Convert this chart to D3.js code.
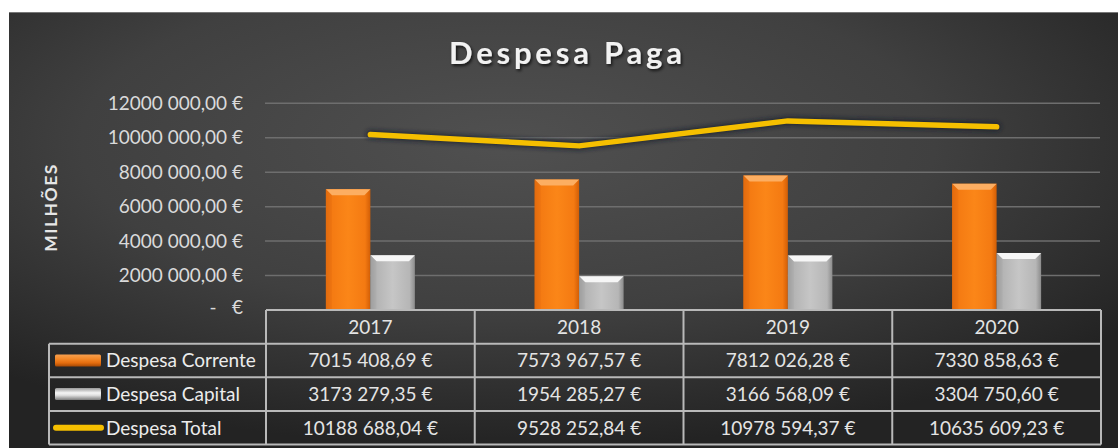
<!DOCTYPE html>
<html>
<head>
<meta charset="utf-8">
<script src="https://cdn.jsdelivr.net/npm/d3@7"></script>
<style>
  html, body { margin: 0; padding: 0; background: #fff; }
  svg { display: block; }
  text { font-family: Lato, "Open Sans", sans-serif; }
</style>
</head>
<body>
<svg id="chart" width="1118" height="448"></svg>
<script>
const title = "Despesa Paga";
const yAxisTitle = "MILHÕES";
const years = ["2017", "2018", "2019", "2020"];
const seriesNames = ["Despesa Corrente", "Despesa Capital", "Despesa Total"];
const despesaCorrente = [7015408.69, 7573967.57, 7812026.28, 7330858.63];
const despesaCapital = [3173279.35, 1954285.27, 3166568.09, 3304750.60];
const despesaTotal = [10188688.04, 9528252.84, 10978594.37, 10635609.23];
const yTicks = [0, 2000000, 4000000, 6000000, 8000000, 10000000, 12000000];

// Excel-like pt format: "7015 408,69 €"
function fmtEuro(v) {
  const s = d3.format(",.2f")(v);
  const [intPart, dec] = s.split(".");
  const groups = intPart.split(",");
  let out;
  if (groups.length >= 2) {
    out = groups.slice(0, groups.length - 1).join("") + " " + groups[groups.length - 1];
  } else out = groups[0];
  return out + "," + dec + " €";
}

const svg = d3.select("#chart");
const defs = svg.append("defs");

const bg = defs.append("radialGradient").attr("id", "bgGrad")
  .attr("cx", "0.45").attr("cy", "0.3").attr("r", "0.7");
bg.append("stop").attr("offset", "0%").attr("stop-color", "#505050");
bg.append("stop").attr("offset", "55%").attr("stop-color", "#404040");
bg.append("stop").attr("offset", "100%").attr("stop-color", "#232323");

function hGrad(id, stops) {
  const g = defs.append("linearGradient").attr("id", id)
    .attr("x1", "0").attr("x2", "1").attr("y1", "0").attr("y2", "0");
  stops.forEach(s => g.append("stop").attr("offset", s[0]).attr("stop-color", s[1]));
}
function vGrad(id, stops) {
  const g = defs.append("linearGradient").attr("id", id)
    .attr("x1", "0").attr("x2", "0").attr("y1", "0").attr("y2", "1");
  stops.forEach(s => g.append("stop").attr("offset", s[0]).attr("stop-color", s[1]));
}
hGrad("orangeBar", [["0%", "#d9640a"], ["12%", "#f47a12"], ["50%", "#fb8618"], ["88%", "#f47a12"], ["100%", "#d25e06"]]);
hGrad("grayBar", [["0%", "#8f8f8f"], ["12%", "#b3b3b3"], ["50%", "#c6c6c6"], ["88%", "#b6b6b6"], ["100%", "#8c8c8c"]]);
vGrad("orangeKey", [["0%", "#f7a050"], ["35%", "#f58a2a"], ["70%", "#e56d0e"], ["100%", "#a84a05"]]);
vGrad("grayKey", [["0%", "#9a9a9a"], ["40%", "#f4f4f4"], ["60%", "#e0e0e0"], ["100%", "#7a7a7a"]]);

const shadow = defs.append("filter").attr("id", "shadow").attr("x", "-20%").attr("y", "-20%").attr("width", "140%").attr("height", "160%");
shadow.append("feDropShadow").attr("dx", 1.5).attr("dy", 2).attr("stdDeviation", 1.5).attr("flood-color", "#000").attr("flood-opacity", 0.7);
const blur = defs.append("filter").attr("id", "blur").attr("x", "-10%").attr("y", "-50%").attr("width", "120%").attr("height", "200%");
blur.append("feGaussianBlur").attr("stdDeviation", 2);

svg.append("rect").attr("x", 9).attr("y", 12).attr("width", 1109).attr("height", 436)
  .attr("fill", "url(#bgGrad)");
svg.append("line").attr("x1", 9).attr("x2", 1118).attr("y1", 12.5).attr("y2", 12.5)
  .attr("stroke", "#777").attr("stroke-width", 1);

const y = d3.scaleLinear().domain([0, 12000000]).range([310, 103.3]);
const x0 = d3.scaleBand().domain(years).range([266, 1101]).padding(0);
const groupW = 89;
const x1 = d3.scaleBand().domain(["corrente", "capital"]).range([0, groupW]).padding(0);

svg.append("g").selectAll("line").data(yTicks.filter(d => d > 0)).join("line")
  .attr("x1", 265).attr("x2", 1100)
  .attr("y1", d => y(d)).attr("y2", d => y(d))
  .attr("stroke", "#6e6e6e").attr("stroke-width", 1.5);

const yl = svg.append("g");
yl.selectAll("text").data(yTicks.filter(d => d > 0)).join("text")
  .attr("x", 243).attr("y", d => y(d)).attr("dy", "0.35em")
  .attr("text-anchor", "end").attr("font-size", 19).attr("fill", "#dadada")
  .text(d => fmtEuro(d));
yl.append("text").attr("x", 213).attr("y", y(0)).attr("dy", "0.2em")
  .attr("text-anchor", "middle").attr("font-size", 19).attr("fill", "#dadada").text("-");
yl.append("text").attr("x", 243).attr("y", y(0)).attr("dy", "0.2em")
  .attr("text-anchor", "end").attr("font-size", 19).attr("fill", "#dadada").text("€");

svg.append("text").attr("transform", `translate(57,207.5) rotate(-90)`)
  .attr("text-anchor", "middle").attr("font-size", 17.5).attr("font-weight", "bold")
  .attr("letter-spacing", 1.5).attr("fill", "#e6e6e6").text(yAxisTitle);

svg.append("text").attr("x", 449).attr("y", 64)
  .attr("font-size", 31).attr("font-weight", "bold").attr("letter-spacing", 3.8)
  .attr("fill", "#f2f2f2").attr("filter", "url(#shadow)").text(title);

const barData = [];
years.forEach((yr, i) => {
  barData.push({ year: yr, key: "corrente", value: despesaCorrente[i] });
  barData.push({ year: yr, key: "capital", value: despesaCapital[i] });
});
const bars = svg.append("g").selectAll("g").data(barData).join("g")
  .attr("transform", d => `translate(${x0(d.year) + x0.bandwidth() / 2 - groupW / 2 + x1(d.key)},0)`);
bars.append("rect").attr("x", 0).attr("y", d => y(d.value))
  .attr("width", x1.bandwidth()).attr("height", d => y(0) - y(d.value))
  .attr("fill", d => d.key === "corrente" ? "url(#orangeBar)" : "url(#grayBar)");
bars.append("path").attr("d", d => {
  const w = x1.bandwidth(), t = y(d.value), b = 6;
  return `M0,${t} L${w},${t} L${w - b},${t + b} L${b},${t + b} Z`;
}).attr("fill", d => d.key === "corrente" ? "#fcae62" : "#f6f6f6");
bars.append("path").attr("d", d => {
  const w = x1.bandwidth(), t = y(d.value), b = 6;
  return `M0,${t} L${b},${t + b} L${b},${y(0)} L0,${y(0)} Z`;
}).attr("fill", d => d.key === "corrente" ? "#e87010" : "#a8a8a8").attr("opacity", 0.6);

const line = d3.line().x((d, i) => x0(years[i]) + x0.bandwidth() / 2).y(d => y(d));
svg.append("path").datum(despesaTotal).attr("d", line)
  .attr("fill", "none").attr("stroke", "#141a2a").attr("stroke-width", 9)
  .attr("stroke-linecap", "round").attr("stroke-linejoin", "round")
  .attr("opacity", 0.7).attr("filter", "url(#blur)");
svg.append("path").datum(despesaTotal).attr("d", line)
  .attr("fill", "none").attr("stroke", "#f5bf00").attr("stroke-width", 5.5)
  .attr("stroke-linecap", "round").attr("stroke-linejoin", "round");

const rowKeys = ["header", "corrente", "capital", "total"];
const rowY = d3.scaleBand().domain(rowKeys).range([310, 444.5]).padding(0);
const tableLeft = 49, tableRight = 1101, colStart = 266;
const tbl = svg.append("g");
const borderColor = "#b9b9b9";

tbl.selectAll("text.hdr").data(years).join("text").attr("class", "hdr")
  .attr("x", d => x0(d) + x0.bandwidth() / 2)
  .attr("y", rowY("header") + rowY.bandwidth() / 2).attr("dy", "0.36em")
  .attr("text-anchor", "middle").attr("font-size", 19).attr("fill", "#e4e4e4").text(d => d);

const tableRows = [
  { key: "corrente", name: seriesNames[0], values: despesaCorrente },
  { key: "capital", name: seriesNames[1], values: despesaCapital },
  { key: "total", name: seriesNames[2], values: despesaTotal }
];
tableRows.forEach(r => {
  const cy = rowY(r.key) + rowY.bandwidth() / 2;
  tbl.append("text").attr("x", 106).attr("y", cy).attr("dy", "0.36em")
    .attr("font-size", 19).attr("fill", "#ececec").text(r.name);
  tbl.selectAll(null).data(r.values).join("text")
    .attr("x", (d, i) => x0(years[i]) + x0.bandwidth() / 2).attr("y", cy).attr("dy", "0.36em")
    .attr("text-anchor", "middle").attr("font-size", 19).attr("fill", "#e4e4e4")
    .text(d => fmtEuro(d));
  if (r.key === "total") {
    tbl.append("line").attr("x1", 56).attr("x2", 101).attr("y1", cy).attr("y2", cy)
      .attr("stroke", "#f5bf00").attr("stroke-width", 6).attr("stroke-linecap", "round");
  } else {
    tbl.append("rect").attr("x", 55).attr("y", cy - 6).attr("width", 46).attr("height", 12)
      .attr("rx", 1.5)
      .attr("fill", r.key === "corrente" ? "url(#orangeKey)" : "url(#grayKey)");
  }
});

const hLines = [
  { y: rowY("header"), x1: colStart, x2: tableRight },
  { y: rowY("corrente"), x1: tableLeft, x2: tableRight },
  { y: rowY("capital"), x1: tableLeft, x2: tableRight },
  { y: rowY("total"), x1: tableLeft, x2: tableRight },
  { y: rowY("total") + rowY.bandwidth(), x1: tableLeft, x2: tableRight }
];
tbl.selectAll("line.h").data(hLines).join("line").attr("class", "h")
  .attr("x1", d => d.x1).attr("x2", d => d.x2).attr("y1", d => d.y).attr("y2", d => d.y)
  .attr("stroke", borderColor).attr("stroke-width", 2);
const vLines = [{ x: tableLeft, y1: rowY("corrente") }]
  .concat(years.map(yr => ({ x: x0(yr), y1: rowY("header") })))
  .concat([{ x: tableRight, y1: rowY("header") }]);
tbl.selectAll("line.v").data(vLines).join("line").attr("class", "v")
  .attr("x1", d => d.x).attr("x2", d => d.x).attr("y1", d => d.y1).attr("y2", rowY("total") + rowY.bandwidth())
  .attr("stroke", borderColor).attr("stroke-width", 2);
</script>
</body>
</html>
